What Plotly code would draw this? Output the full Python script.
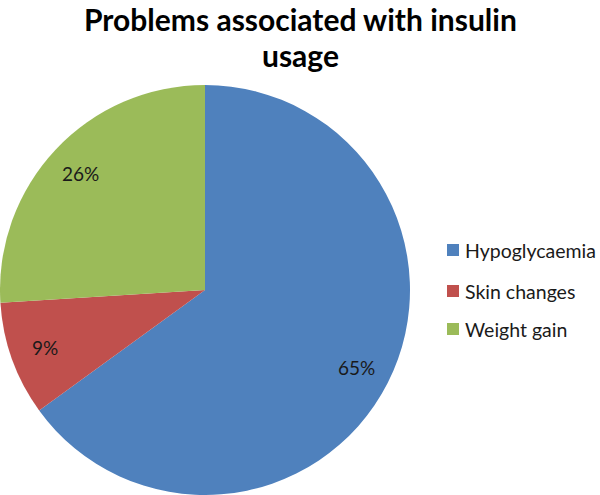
import math
import plotly.graph_objects as go

categories = ["Hypoglycaemia", "Skin changes", "Weight gain"]
values = [65, 9, 26]
colors = ["#4F81BD", "#C0504D", "#9BBB59"]
title_lines = ["Problems associated with insulin", "usage"]

W, H = 600, 495
dom_x = [0, 410 / W]
dom_y = [0, 410 / H]
FONT = "Lato, Open Sans, sans-serif"

fig = go.Figure(go.Pie(
    labels=categories,
    values=values,
    marker=dict(colors=colors, line=dict(width=0)),
    sort=False,
    direction="clockwise",
    rotation=0,
    textinfo="none",
    hoverinfo="label+percent",
    showlegend=False,
    domain=dict(x=dom_x, y=dom_y),
))

# percentage labels placed along the slice mid-angle
cx = (dom_x[0] + dom_x[1]) / 2 * W
cy = (dom_y[0] + dom_y[1]) / 2 * H
R = min((dom_x[1] - dom_x[0]) * W, (dom_y[1] - dom_y[0]) * H) / 2
total = sum(values)
cum = 0
annotations = []
for v in values:
    mid = (cum + v / 2) / total * 2 * math.pi
    cum += v
    px = cx + 0.83 * R * math.sin(mid)
    py = cy + 0.83 * R * math.cos(mid)
    annotations.append(dict(
        x=px / W, y=py / H, xref="paper", yref="paper",
        text=f"{round(v / total * 100)}%", showarrow=False,
        font=dict(family=FONT, size=19, color="#1a1a1a"),
        xanchor="center", yanchor="middle",
    ))

# custom legend
shapes = []
leg_y = [250, 291, 329]
for lab, col, ly in zip(categories, colors, leg_y):
    shapes.append(dict(type="rect", xref="paper", yref="paper",
                       x0=447 / W, x1=459 / W, y0=1 - (ly + 6) / H, y1=1 - (ly - 6) / H,
                       fillcolor=col, line=dict(width=0)))
    annotations.append(dict(
        x=463 / W, y=1 - ly / H, xref="paper", yref="paper",
        text=lab, showarrow=False, xanchor="left", yanchor="middle",
        font=dict(family=FONT, size=19.5, color="#1a1a1a"),
    ))

# title (two centred lines)
for txt, yc in zip(title_lines, [19, 55]):
    annotations.append(dict(
        x=0.5, y=1 - yc / H, xref="paper", yref="paper",
        text=f"<b>{txt}</b>", showarrow=False, xanchor="center", yanchor="middle",
        font=dict(family=FONT, size=30, color="black"),
    ))

fig.update_layout(
    width=W, height=H,
    margin=dict(l=0, r=0, t=0, b=0),
    paper_bgcolor="white", plot_bgcolor="white",
    annotations=annotations,
    shapes=shapes,
)

fig.write_html("out.html", config={"displayModeBar": False},
               post_script="document.body.style.margin='0';")
